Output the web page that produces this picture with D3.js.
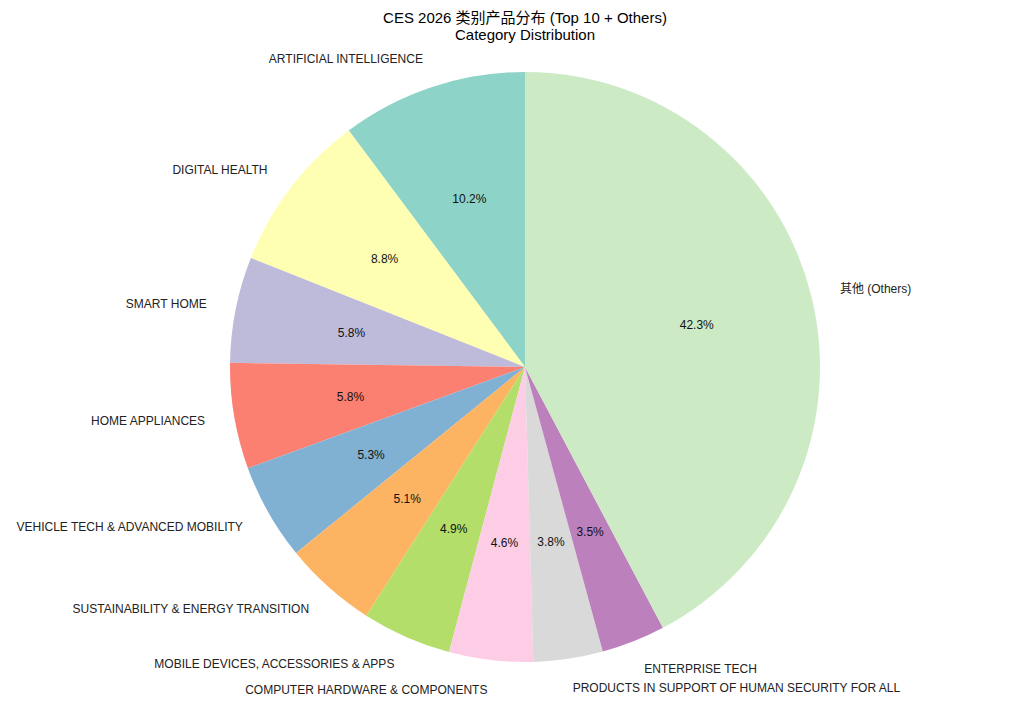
<!DOCTYPE html>
<html><head><meta charset="utf-8">
<script src="https://cdn.jsdelivr.net/npm/d3@7"></script>
<style>body{margin:0;background:#fff}text{font-family:"Liberation Sans","DejaVu Sans","Noto Sans CJK SC",sans-serif}</style>
</head><body><svg id="c" width="1024" height="704"></svg>
<script>
const categories = ["ARTIFICIAL INTELLIGENCE","DIGITAL HEALTH","SMART HOME","HOME APPLIANCES",
  "VEHICLE TECH & ADVANCED MOBILITY","SUSTAINABILITY & ENERGY TRANSITION","MOBILE DEVICES, ACCESSORIES & APPS",
  "COMPUTER HARDWARE & COMPONENTS","PRODUCTS IN SUPPORT OF HUMAN SECURITY FOR ALL","ENTERPRISE TECH","其他 (Others)"];
const values = [10.2,8.8,5.8,5.8,5.3,5.1,4.9,4.6,3.8,3.5,42.3];
const colors = ["#8dd3c7","#ffffb3","#bebada","#fb8072","#80b1d3","#fdb462","#b3de69","#fccde5","#d9d9d9","#bc80bd","#ccebc5"];

const svg = d3.select("#c");
const cx = 525, cy = 367, r = 295;
const total = d3.sum(values);
const g = svg.append("g").attr("transform", `translate(${cx},${cy})`);
const arc = d3.arc().innerRadius(0).outerRadius(r);

// counterclockwise from top, like matplotlib startangle=90
let cum = 0;
const slices = values.map((v, i) => {
  const a0 = cum / total * 2 * Math.PI;
  cum += v;
  const a1 = cum / total * 2 * Math.PI;
  return {i, v, a0, a1, mid: (a0 + a1) / 2};
});

g.selectAll("path").data(slices).enter().append("path")
  .attr("d", d => arc({startAngle: -d.a1, endAngle: -d.a0}))
  .attr("fill", d => colors[d.i]);

const pos = (d, k) => [-k * r * Math.sin(d.mid), -k * r * Math.cos(d.mid)];

g.selectAll(".lab").data(slices).enter().append("text")
  .attr("x", d => pos(d, 1.1)[0]).attr("y", d => pos(d, 1.1)[1])
  .attr("dy", "0.35em").attr("font-size", 12).attr("fill", "#222")
  .attr("text-anchor", d => pos(d, 1)[0] >= 0 ? "start" : "end")
  .text(d => categories[d.i]);

g.selectAll(".pct").data(slices).enter().append("text")
  .attr("x", d => pos(d, 0.6)[0]).attr("y", d => pos(d, 0.6)[1])
  .attr("dy", "0.35em").attr("font-size", 12).attr("text-anchor", "middle").attr("fill", "#111")
  .text(d => d3.format(".1f")(d.v) + "%");

svg.append("text").attr("x", 525).attr("y", 23).attr("text-anchor", "middle").attr("font-size", 15)
  .text("CES 2026 类别产品分布 (Top 10 + Others)");
svg.append("text").attr("x", 525).attr("y", 40).attr("text-anchor", "middle").attr("font-size", 15)
  .text("Category Distribution");
</script></body></html>
